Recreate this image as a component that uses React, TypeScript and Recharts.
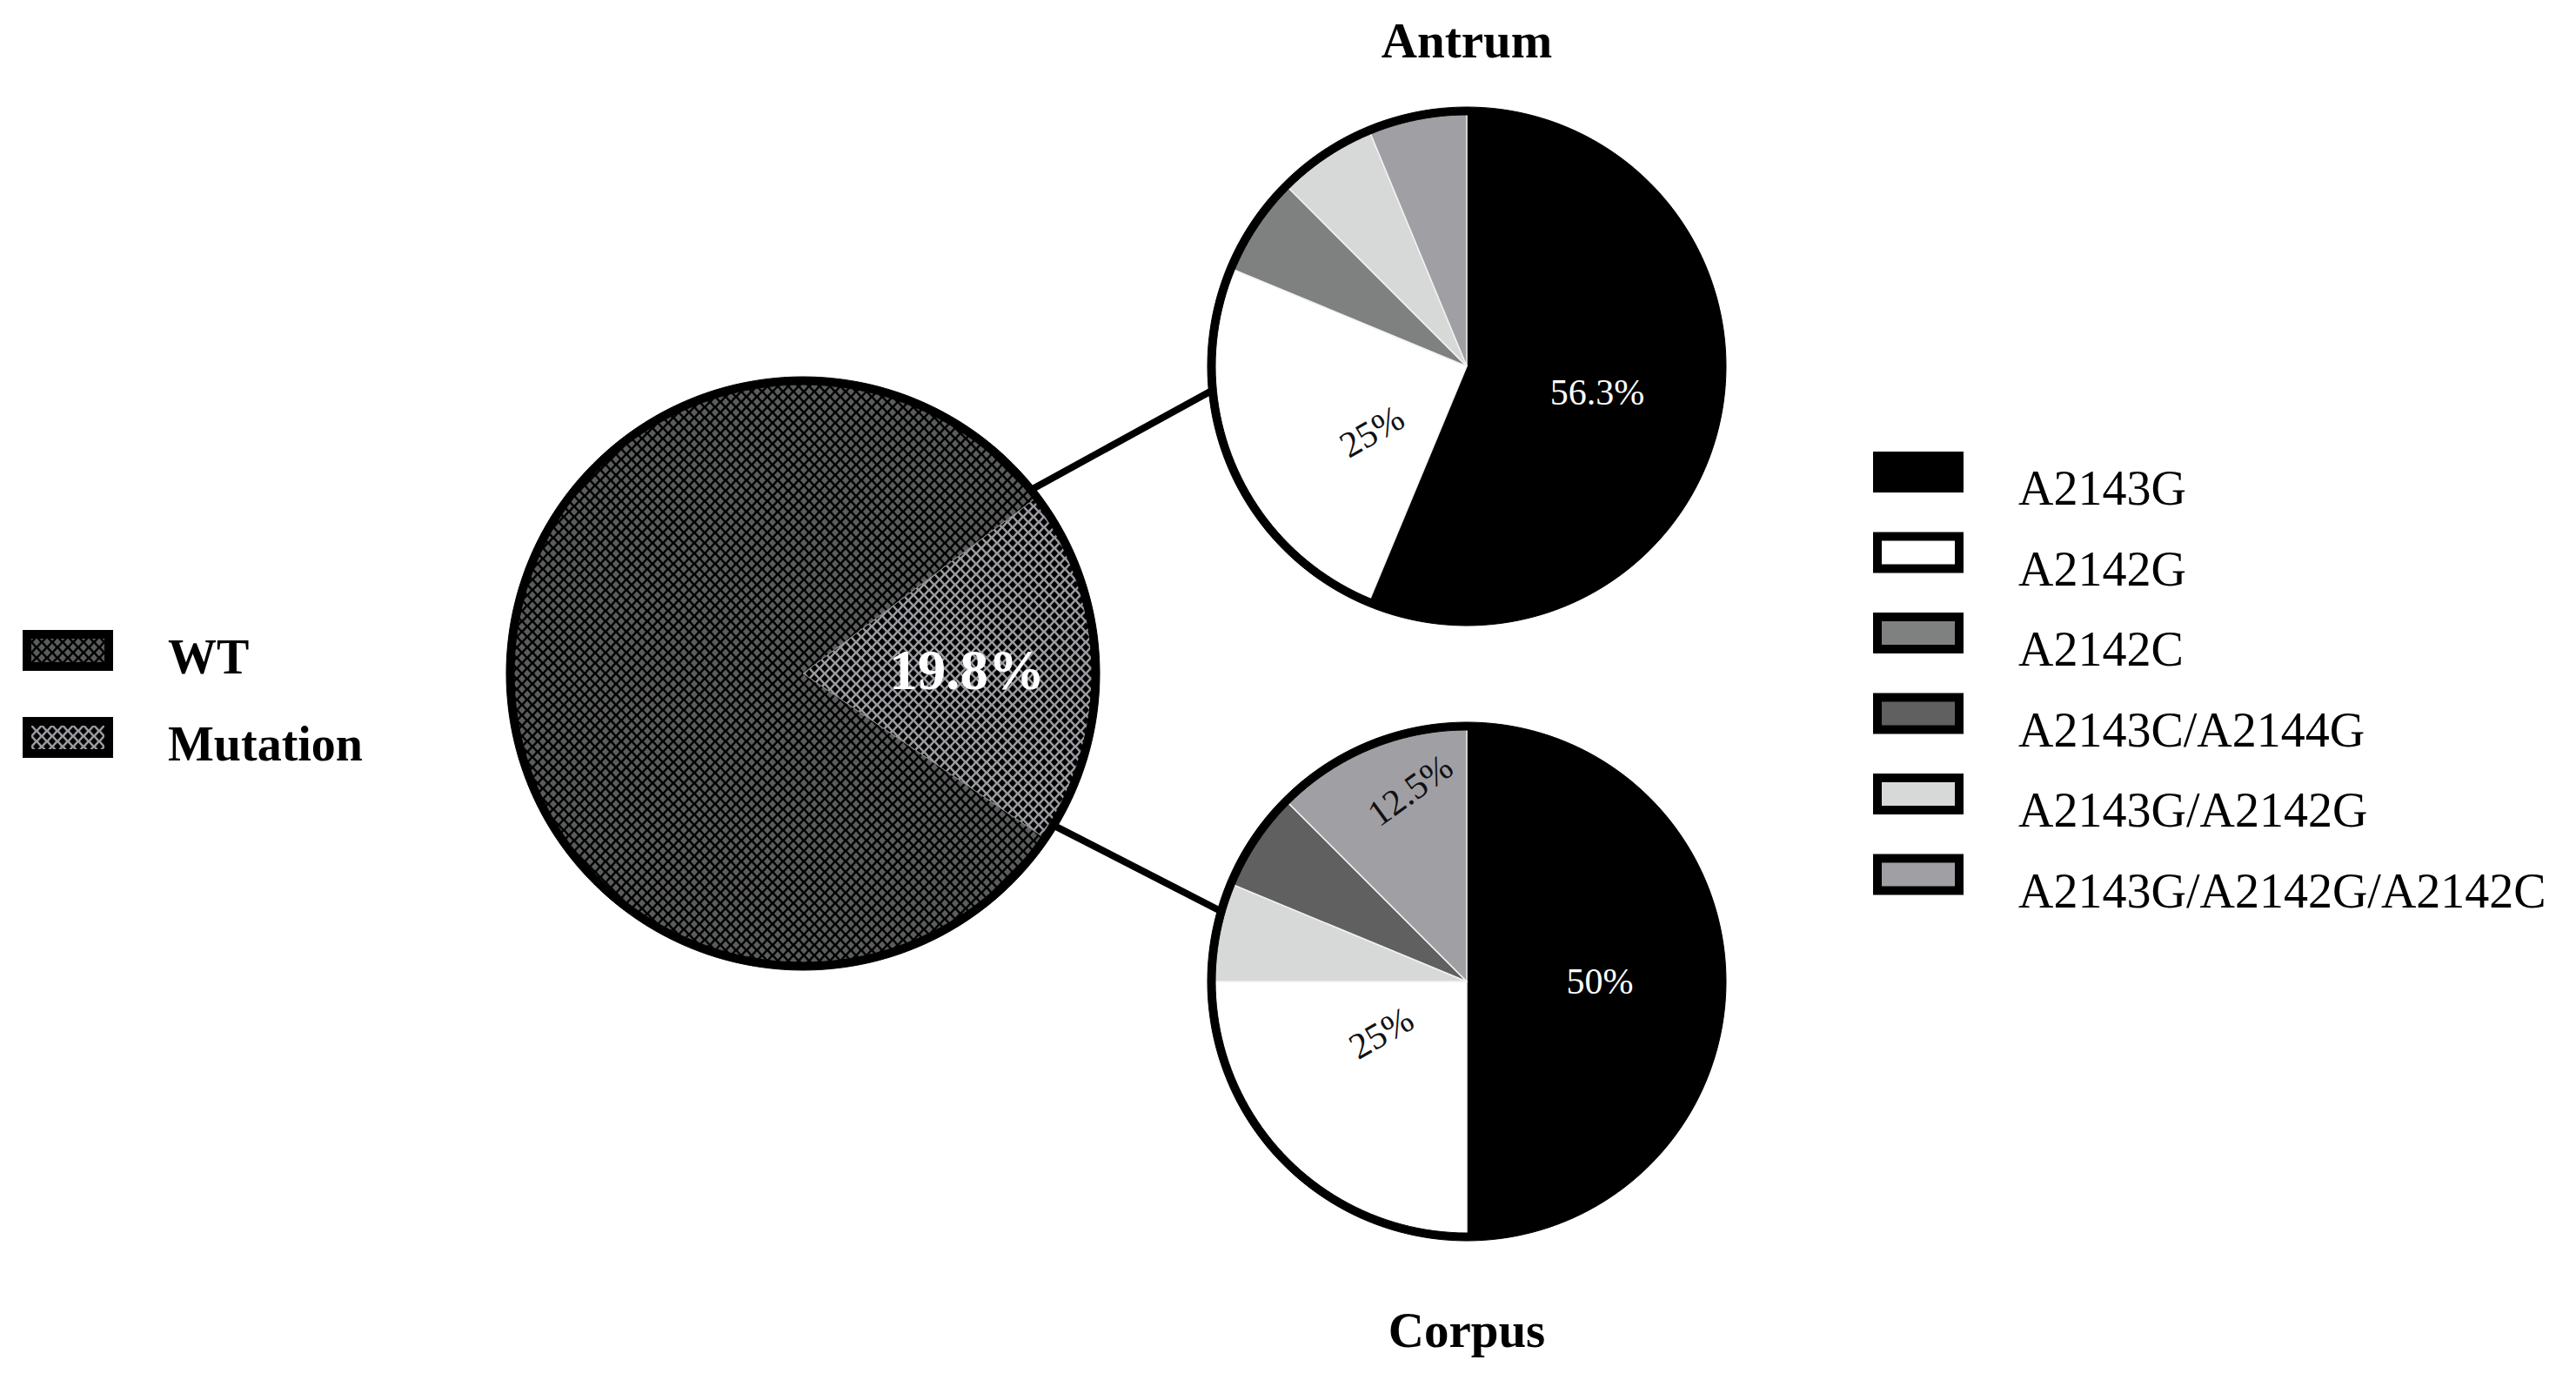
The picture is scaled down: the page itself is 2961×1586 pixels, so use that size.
import { PieChart, Pie, Cell } from "recharts";

const W = 2961;
const H = 1586;
const FONT = '"Liberation Serif", "Times New Roman", serif';
const RAD = Math.PI / 180;

// overall status (big pie)
const statusNames = ["Mutation", "WT"];
const statusShares = [19.8, 80.2];
const statusLegend = ["WT", "Mutation"];

// mutation types (legend order)
const mutationTypes = [
  "A2143G",
  "A2142G",
  "A2142C",
  "A2143C/A2144G",
  "A2143G/A2142G",
  "A2143G/A2142G/A2142C",
];
const typeColors = ["#000000", "#ffffff", "#7f8080", "#5f605f", "#d7d8d8", "#a09fa4"];

// antrum, in drawing order (clockwise from 12 o'clock)
const antrumTypes = ["A2143G", "A2142G", "A2142C", "A2143G/A2142G", "A2143G/A2142G/A2142C"];
const antrumShares = [56.3, 25, 6.25, 6.25, 6.25];

// corpus, in drawing order
const corpusTypes = ["A2143G", "A2142G", "A2143G/A2142G", "A2143C/A2144G", "A2143G/A2142G/A2142C"];
const corpusShares = [50, 25, 6.25, 6.25, 12.5];

// layout
const BIG = { cx: 923, cy: 774, r: 341 };
const ANTRUM = { cx: 1686, cy: 421, r: 298 };
const CORPUS = { cx: 1686, cy: 1128, r: 298 };

// r = fraction of radius, da = nudge off the mid angle, rot = text rotation
type LabelCfg = { r: number; da: number; rot: number; color: string; size: number; bold?: boolean };

const antrumLabels: Record<string, LabelCfg> = {
  A2143G: { r: 0.52, da: 0, rot: 0, color: "#fff", size: 42 },
  A2142G: { r: 0.45, da: 12, rot: -30, color: "#111", size: 42 },
};
const corpusLabels: Record<string, LabelCfg> = {
  A2143G: { r: 0.52, da: 0, rot: 0, color: "#fff", size: 42 },
  A2142G: { r: 0.39, da: -14, rot: -30, color: "#111", size: 42 },
  "A2143G/A2142G/A2142C": { r: 0.78, da: -6, rot: -36, color: "#111", size: 42 },
};
const bigLabels: Record<string, LabelCfg> = {
  Mutation: { r: 0.56, da: 0, rot: 0, color: "#fff", size: 65, bold: true },
};

const colorOf = (t: string) => typeColors[mutationTypes.indexOf(t)];

const toData = (names: string[], values: number[]) =>
  names.map((name, i) => ({ name, value: values[i] }));

const polar = (c: { cx: number; cy: number }, deg: number, r: number) => ({
  x: c.cx + r * Math.cos(deg * RAD),
  y: c.cy - r * Math.sin(deg * RAD),
});

function makeLabel(cfg: Record<string, LabelCfg>) {
  return (props: any) => {
    const { cx, cy, midAngle, outerRadius, value } = props;
    const name = props.name ?? props.payload?.name;
    const c = cfg[name];
    if (!c) return null;
    const rr = outerRadius * c.r;
    const a = midAngle + c.da;
    const x = cx + rr * Math.cos(-a * RAD);
    const y = cy + rr * Math.sin(-a * RAD);
    return (
      <text
        x={x}
        y={y}
        fill={c.color}
        fontSize={c.size}
        fontFamily={FONT}
        fontWeight={c.bold ? 700 : 400}
        textAnchor="middle"
        dominantBaseline="central"
        transform={`rotate(${c.rot} ${x} ${y})`}
      >
        {`${value}%`}
      </text>
    );
  };
}

const ring = [{ name: "ring", value: 1 }];

function SmallPie(c: { cx: number; cy: number; r: number }, names: string[], values: number[], cfg: Record<string, LabelCfg>, key: string) {
  return [
    <Pie
      key={key}
      data={toData(names, values)}
      dataKey="value"
      nameKey="name"
      cx={c.cx}
      cy={c.cy}
      outerRadius={c.r - 4}
      startAngle={90}
      endAngle={-270}
      isAnimationActive={false}
      label={makeLabel(cfg)}
      labelLine={false}
    >
      {names.map((n) => (
        <Cell
          key={n}
          fill={colorOf(n)}
          stroke={n === "A2143G" ? "#000" : "#f2f2f2"}
          strokeWidth={1.5}
        />
      ))}
    </Pie>,
    <Pie
      key={key + "-ring"}
      data={ring}
      dataKey="value"
      cx={c.cx}
      cy={c.cy}
      innerRadius={c.r - 9}
      outerRadius={c.r}
      fill="#000"
      stroke="#000"
      strokeWidth={1}
      isAnimationActive={false}
    />,
  ];
}

export default function App() {
  const upA = polar(BIG, 38.8, BIG.r - 3);
  const upB = polar(ANTRUM, 185.5, ANTRUM.r - 3);
  const loA = polar(BIG, -31.2, BIG.r - 3);
  const loB = polar(CORPUS, 164, CORPUS.r - 3);

  const legendX = 2153;
  const legendTextX = 2320;
  const legendBase = 580;
  const legendStep = 92.5;

  return (
    <div style={{ position: "absolute", left: 0, top: 0, width: W, height: H, background: "#fff" }}>
      <svg width={W} height={H} style={{ position: "absolute", left: 0, top: 0 }}>
        <defs>
          <pattern id="wtPat" width={12} height={12} patternUnits="userSpaceOnUse">
            <rect width={12} height={12} fill="#000" />
            <polygon points="6,1.5 10,6 6,10.5 2,6" fill="#5b5d5c" />
            <polygon points="0,-4.5 4,0 0,4.5 -4,0" fill="#5b5d5c" />
            <polygon points="12,-4.5 16,0 12,4.5 8,0" fill="#5b5d5c" />
            <polygon points="0,7.5 4,12 0,16.5 -4,12" fill="#5b5d5c" />
            <polygon points="12,7.5 16,12 12,16.5 8,12" fill="#5b5d5c" />
          </pattern>
          <pattern id="mutPat" width={12} height={12} patternUnits="userSpaceOnUse">
            <rect width={12} height={12} fill="#9b9aa0" />
            <polygon points="6,1.5 10,6 6,10.5 2,6" fill="#000" />
            <polygon points="0,-4.5 4,0 0,4.5 -4,0" fill="#000" />
            <polygon points="12,-4.5 16,0 12,4.5 8,0" fill="#000" />
            <polygon points="0,7.5 4,12 0,16.5 -4,12" fill="#000" />
            <polygon points="12,7.5 16,12 12,16.5 8,12" fill="#000" />
          </pattern>
        </defs>

        {/* connectors */}
        <line x1={upA.x} y1={upA.y} x2={upB.x} y2={upB.y} stroke="#000" strokeWidth={8} />
        <line x1={loA.x} y1={loA.y} x2={loB.x} y2={loB.y} stroke="#000" strokeWidth={8} />

        {/* titles */}
        <text x={ANTRUM.cx} y={66} textAnchor="middle" fontFamily={FONT} fontWeight={700} fontSize={57}>
          Antrum
        </text>
        <text x={CORPUS.cx} y={1548} textAnchor="middle" fontFamily={FONT} fontWeight={700} fontSize={57}>
          Corpus
        </text>

        {/* status legend */}
        {statusLegend.map((s, i) => (
          <g key={s}>
            <rect
              x={31}
              y={729 + i * 100}
              width={94}
              height={37}
              fill={s === "WT" ? "url(#wtPat)" : "url(#mutPat)"}
              stroke="#000"
              strokeWidth={10}
            />
            <text x={193} y={774 + i * 100} fontFamily={FONT} fontWeight={700} fontSize={56}>
              {s}
            </text>
          </g>
        ))}

        {/* mutation type legend */}
        {mutationTypes.map((t, i) => (
          <g key={t}>
            <rect
              x={legendX + 5}
              y={legendBase + i * legendStep - 56}
              width={94}
              height={37}
              fill={typeColors[i]}
              stroke="#000"
              strokeWidth={10}
            />
            <text x={legendTextX} y={legendBase + i * legendStep} fontFamily={FONT} fontSize={56}>
              {t}
            </text>
          </g>
        ))}
      </svg>

      <div style={{ position: "absolute", left: 0, top: 0 }}>
        <PieChart width={W} height={H} margin={{ top: 0, right: 0, bottom: 0, left: 0 }}>
          <Pie
            data={toData(statusNames, statusShares)}
            dataKey="value"
            nameKey="name"
            cx={BIG.cx}
            cy={BIG.cy}
            outerRadius={BIG.r - 4}
            startAngle={37}
            endAngle={-323}
            isAnimationActive={false}
            label={makeLabel(bigLabels)}
            labelLine={false}
          >
            {statusNames.map((n) => (
              <Cell key={n} fill={n === "WT" ? "url(#wtPat)" : "url(#mutPat)"} stroke="#8a8a8a" strokeWidth={1} />
            ))}
          </Pie>
          <Pie
            data={ring}
            dataKey="value"
            cx={BIG.cx}
            cy={BIG.cy}
            innerRadius={BIG.r - 9}
            outerRadius={BIG.r}
            fill="#000"
            stroke="#000"
            strokeWidth={1}
            isAnimationActive={false}
          />
          {SmallPie(ANTRUM, antrumTypes, antrumShares, antrumLabels, "antrum")}
          {SmallPie(CORPUS, corpusTypes, corpusShares, corpusLabels, "corpus")}
        </PieChart>
      </div>
    </div>
  );
}
